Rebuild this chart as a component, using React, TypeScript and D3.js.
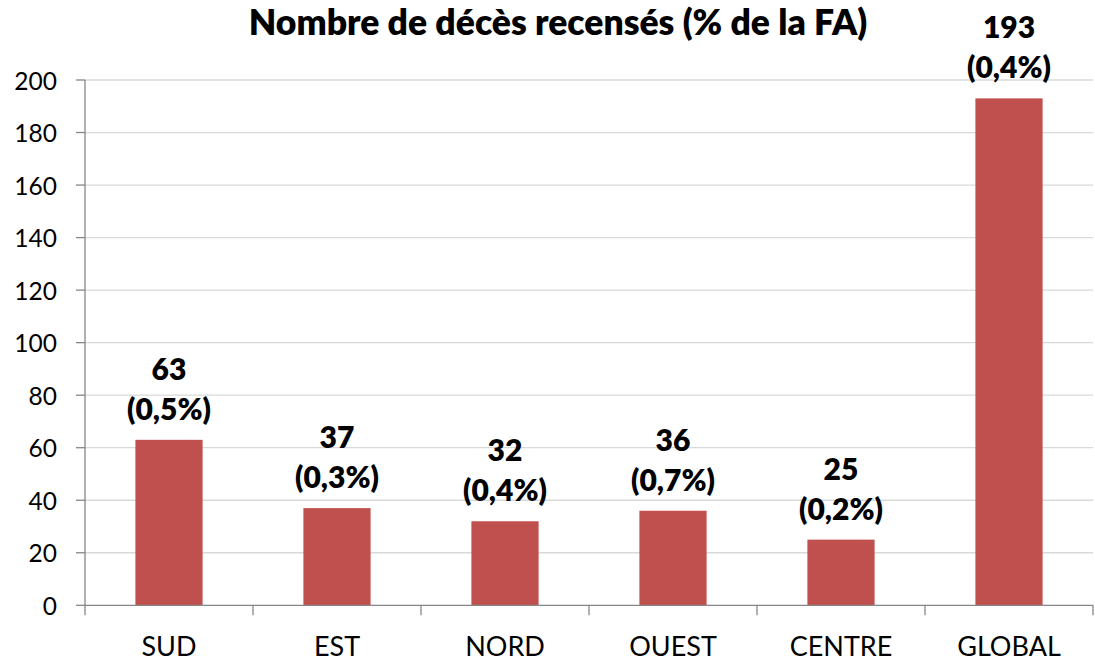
import React from "react";
import * as d3 from "d3";

const categories = ["SUD", "EST", "NORD", "OUEST", "CENTRE", "GLOBAL"];
const deaths = [63, 37, 32, 36, 25, 193];
const shares = ["(0,5%)", "(0,3%)", "(0,4%)", "(0,7%)", "(0,2%)", "(0,4%)"];
const yTicks = [0, 20, 40, 60, 80, 100, 120, 140, 160, 180, 200];
const title = "Nombre de décès recensés (% de la FA)";

const W = 1095;
const H = 664;
const M = { left: 85, right: 2, top: 80, bottom: 58.7 };
const FONT = "Lato, 'Open Sans', sans-serif";

export default function App() {
  const x = d3
    .scaleBand<string>()
    .domain(categories)
    .range([M.left, W - M.right])
    .paddingInner(0.6)
    .paddingOuter(0.3);
  const y = d3.scaleLinear().domain([0, 200]).range([H - M.bottom, M.top]);
  const step = x.step();
  const x0 = M.left;
  const x1 = W - M.right;
  const y0 = y(0);

  return (
    <div style={{ position: "absolute", left: 0, top: 0 }}>
      <svg width={W} height={H} style={{ display: "block", background: "#fff" }}>
        <text
          x={558}
          y={35}
          textAnchor="middle"
          fontFamily={FONT}
          fontWeight={800}
          fontSize={35.5}
          fill="#000"
        >
          {title}
        </text>
        {yTicks.map((t) => (
          <g key={t}>
            {t !== 0 && (
              <line x1={x0} x2={x1} y1={y(t)} y2={y(t)} stroke="#D9D9D9" strokeWidth={1.3} />
            )}
            <line x1={x0 - 9} x2={x0} y1={y(t)} y2={y(t)} stroke="#868686" strokeWidth={1.3} />
            <text
              x={57}
              y={y(t)}
              textAnchor="end"
              dominantBaseline="central"
              fontFamily={FONT}
              fontSize={24.5}
              fill="#000"
            >
              {t}
            </text>
          </g>
        ))}
        {categories.map((c, i) => (
          <g key={c}>
            <rect
              x={x(c)}
              y={y(deaths[i])}
              width={x.bandwidth()}
              height={y0 - y(deaths[i])}
              fill="#C0504D"
            />
            <text
              x={(x(c) as number) + x.bandwidth() / 2}
              y={y(deaths[i]) - 60}
              textAnchor="middle"
              fontFamily={FONT}
              fontWeight={800}
              fontSize={30}
              fill="#000"
            >
              {deaths[i]}
            </text>
            <text
              x={(x(c) as number) + x.bandwidth() / 2}
              y={y(deaths[i]) - 20}
              textAnchor="middle"
              fontFamily={FONT}
              fontWeight={800}
              fontSize={30}
              fill="#000"
            >
              {shares[i]}
            </text>
            <text
              x={(x(c) as number) + x.bandwidth() / 2}
              y={656}
              textAnchor="middle"
              fontFamily={FONT}
              fontSize={27}
              fill="#000"
            >
              {c}
            </text>
          </g>
        ))}
        {d3.range(categories.length + 1).map((i) => (
          <line
            key={"ct" + i}
            x1={x0 + i * step}
            x2={x0 + i * step}
            y1={y0}
            y2={y0 + 10}
            stroke="#868686"
            strokeWidth={1.3}
          />
        ))}
        <line x1={x0} x2={x0} y1={M.top} y2={y0} stroke="#868686" strokeWidth={1.3} />
        <line x1={x0} x2={x1} y1={y0} y2={y0} stroke="#868686" strokeWidth={1.3} />
      </svg>
    </div>
  );
}
